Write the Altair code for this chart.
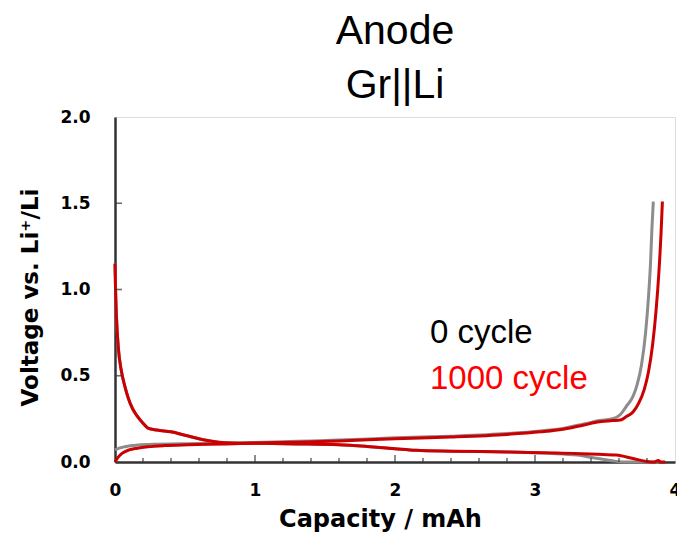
import altair as alt
import pandas as pd

# ---- data ----
series_names = ["0 cycle", "1000 cycle"]
line_colors = ["#8c8c8c", "#cc0000"]

# 0 cycle, charge (delithiation)
g_charge_x = [0.0, 0.03, 0.08, 0.165, 0.3, 0.6, 1.0, 1.3, 1.6, 2.0, 2.4, 2.8, 3.04, 3.2, 3.35, 3.46, 3.56, 3.61,
              3.65, 3.70, 3.73, 3.76, 3.79, 3.81, 3.825, 3.835, 3.845]
g_charge_y = [0.07, 0.08, 0.09, 0.098, 0.103, 0.107, 0.113, 0.12, 0.127, 0.14, 0.15, 0.165, 0.18, 0.195, 0.22, 0.24,
              0.252, 0.275, 0.32, 0.38, 0.45, 0.56, 0.75, 0.95, 1.15, 1.35, 1.51]
# 0 cycle, discharge (lithiation)
g_dis_x = [0.0, 0.004, 0.01, 0.024, 0.045, 0.07, 0.095, 0.125, 0.155, 0.2, 0.235, 0.3, 0.4, 0.5, 0.64, 0.83, 1.0,
           1.3, 1.6, 1.8, 2.0, 2.15, 2.4, 2.8, 3.1, 3.3, 3.45, 3.56, 3.65, 3.88]
g_dis_y = [1.15, 1.0, 0.85, 0.66, 0.53, 0.44, 0.37, 0.31, 0.27, 0.225, 0.197, 0.185, 0.175, 0.155, 0.128, 0.11,
           0.108, 0.105, 0.10, 0.09, 0.077, 0.068, 0.063, 0.058, 0.05, 0.04, 0.02, 0.006, 0.0, 0.0]

# 1000 cycle, charge (delithiation)
r_charge_x = [0.0, 0.02, 0.05, 0.1, 0.16, 0.235, 0.35, 0.52, 0.8, 1.0, 1.3, 1.6, 2.0, 2.4, 2.8, 3.04, 3.2, 3.35,
              3.46, 3.55, 3.61, 3.65, 3.70, 3.74, 3.78, 3.81, 3.84, 3.865, 3.885, 3.9, 3.91]
r_charge_y = [0.0, 0.025, 0.05, 0.07, 0.08, 0.088, 0.095, 0.10, 0.105, 0.11, 0.115, 0.122, 0.135, 0.145, 0.16,
              0.175, 0.19, 0.215, 0.233, 0.24, 0.243, 0.262, 0.29, 0.34, 0.42, 0.52, 0.68, 0.88, 1.1, 1.32, 1.51]
# 1000 cycle, discharge (lithiation)
r_dis_x = [0.0, 0.004, 0.01, 0.024, 0.045, 0.07, 0.095, 0.125, 0.155, 0.2, 0.235, 0.3, 0.4, 0.5, 0.64, 0.83, 1.0,
           1.3, 1.6, 1.8, 2.0, 2.15, 2.4, 2.8, 3.27, 3.45, 3.58, 3.70, 3.80, 3.85, 3.88, 3.90, 3.93]
r_dis_y = [1.15, 1.0, 0.85, 0.66, 0.53, 0.44, 0.37, 0.31, 0.27, 0.225, 0.197, 0.185, 0.175, 0.155, 0.128, 0.11,
           0.108, 0.105, 0.10, 0.09, 0.077, 0.068, 0.063, 0.058, 0.05, 0.045, 0.04, 0.02, 0.003, 0.0, 0.008, 0.0, 0.0]

# annotation labels
label_texts = ["0 cycle", "1000 cycle"]
label_colors = ["#000000", "#ff0000"]
label_x = [2.25, 2.25]
label_y = [0.688, 0.421]

# axis tick positions
x_major_ticks = [1, 2, 3]
x_minor_ticks = [0.2, 0.4, 0.6, 0.8, 1.2, 1.4, 1.6, 1.8, 2.2, 2.4, 2.6, 2.8, 3.2, 3.4, 3.6, 3.8]
y_major_ticks = [0.5, 1.0, 1.5]

# ---- build tables ----
rows = []
curves = [
    ("0 cycle", "charge", g_charge_x, g_charge_y, 0),
    ("0 cycle", "discharge", g_dis_x, g_dis_y, 0),
    ("1000 cycle", "charge", r_charge_x, r_charge_y, 1),
    ("1000 cycle", "discharge", r_dis_x, r_dis_y, 1),
]
for s, seg, xs, ys, z in curves:
    for i, (xv, yv) in enumerate(zip(xs, ys)):
        rows.append({"series": s, "curve": s + " " + seg, "x": xv, "y": yv, "i": i, "z": z})
df = pd.DataFrame(rows)

labels_df = pd.DataFrame({"text": label_texts, "color": label_colors, "x": label_x, "y": label_y})
xmaj_df = pd.DataFrame({"x": x_major_ticks, "y": [0.0] * len(x_major_ticks)})
xmin_df = pd.DataFrame({"x": x_minor_ticks, "y": [0.0] * len(x_minor_ticks)})
ymaj_df = pd.DataFrame({"x": [0.0] * len(y_major_ticks), "y": y_major_ticks})

bold = "DejaVu Sans"
xscale = alt.Scale(domain=[0, 4], nice=False, zero=False)
yscale = alt.Scale(domain=[0, 2], nice=False, zero=False)

xaxis = alt.Axis(values=[0, 1, 2, 3, 4], format="d", ticks=False, grid=False,
                 labelFont=bold, labelFontWeight="bold", labelFontSize=17, labelPadding=20,
                 labelColor="#000", labelFlush=False,
                 title="Capacity / mAh", titleFont=bold, titleFontWeight="bold", titleFontSize=24,
                 titleX=265, titleY=64.5, titleAlign="center", titleBaseline="alphabetic",
                 titleColor="#000",
                 domainColor="#333", domainWidth=2.5)
yaxis = alt.Axis(values=[0, 0.5, 1.0, 1.5, 2.0], format=".1f", ticks=False, grid=False,
                 labelFont=bold, labelFontWeight="bold", labelFontSize=17, labelPadding=25,
                 labelColor="#000", labelFlush=False,
                 title="Voltage vs. Li⁺/Li", titleFont=bold, titleFontWeight="bold", titleFontSize=23,
                 titleX=-78, titleY=180, titleAngle=270, titleAlign="center", titleBaseline="alphabetic",
                 titleColor="#000",
                 domainColor="#333", domainWidth=2.5)

lines = alt.Chart(df).mark_line(strokeWidth=3, interpolate="monotone").encode(
    x=alt.X("x:Q", scale=xscale, axis=xaxis),
    y=alt.Y("y:Q", scale=yscale, axis=yaxis),
    color=alt.Color("series:N", scale=alt.Scale(domain=series_names, range=line_colors), legend=None),
    detail="curve:N",
    order="i:Q",
)
lines_gray = lines.transform_filter(alt.datum.z == 0)
lines_red = lines.transform_filter(alt.datum.z == 1)

xmaj = alt.Chart(xmaj_df).mark_tick(orient="vertical", size=7, thickness=1.6, color="#333", yOffset=-3.5).encode(
    x=alt.X("x:Q", scale=xscale), y=alt.Y("y:Q", scale=yscale))
xmin = alt.Chart(xmin_df).mark_tick(orient="vertical", size=4, thickness=1.6, color="#333", yOffset=-2).encode(
    x=alt.X("x:Q", scale=xscale), y=alt.Y("y:Q", scale=yscale))
ymaj = alt.Chart(ymaj_df).mark_tick(orient="horizontal", size=7, thickness=1.6, color="#333", xOffset=3.5).encode(
    x=alt.X("x:Q", scale=xscale), y=alt.Y("y:Q", scale=yscale))

texts = alt.Chart(labels_df).mark_text(align="left", baseline="alphabetic", font="Liberation Sans",
                                       fontSize=33).encode(
    x=alt.X("x:Q", scale=xscale), y=alt.Y("y:Q", scale=yscale),
    text="text:N", color=alt.Color("color:N", scale=None))

chart = alt.layer(lines_gray, lines_red, xmaj, xmin, ymaj, texts).properties(
    width=560, height=345,
    autosize=alt.AutoSizeParams(type="none"),
    padding={"left": 115, "top": 117, "right": 2, "bottom": 77},
    title=alt.Title(["Anode", "Gr||Li"], font="Liberation Sans", fontSize=41, fontWeight="normal",
                    lineHeight=54, anchor="middle", offset=1, color="#000"),
).configure_view(stroke="#444", strokeWidth=1.5).configure(background="white")

chart.save("out.html", embed_options={"renderer": "svg", "actions": False})
